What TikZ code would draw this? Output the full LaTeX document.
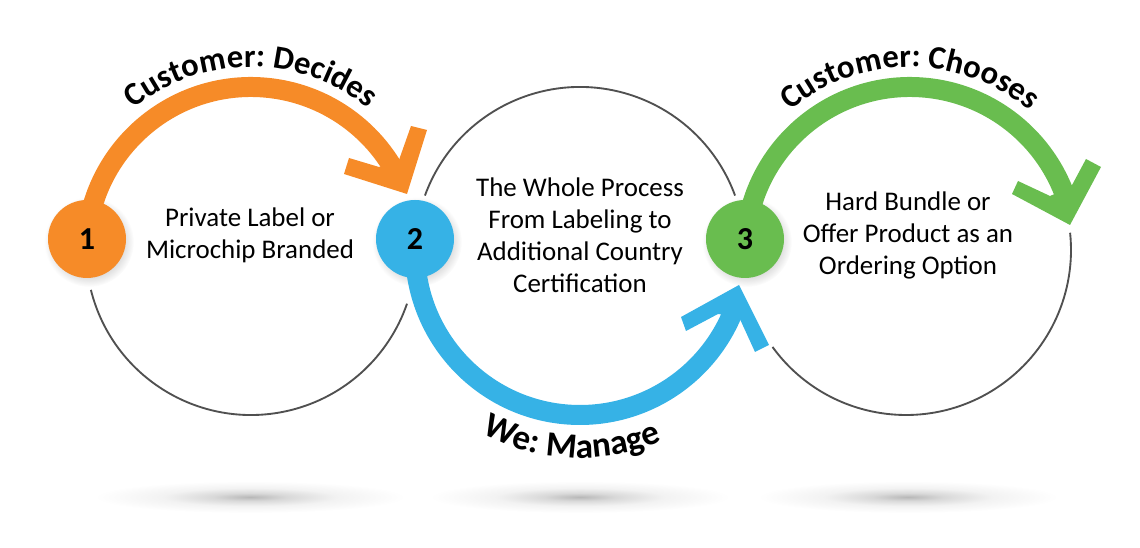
\documentclass[tikz,border=0pt]{standalone}
\usepackage{fontspec}
\setmainfont{Carlito}
\usetikzlibrary{decorations.text}
\definecolor{orangeC}{HTML}{F68B28}
\definecolor{blueC}{HTML}{36B2E6}
\definecolor{greenC}{HTML}{69BD4F}
\definecolor{thinC}{HTML}{505050}
\pgfdeclareradialshading{groundglow}{\pgfpoint{0bp}{0bp}}{color(0bp)=(black!28);color(6bp)=(black!15);color(14bp)=(black!5);color(25bp)=(white);color(50bp)=(white)}
\pgfdeclareradialshading{dotglow}{\pgfpoint{0bp}{0bp}}{color(0bp)=(black!14);color(19bp)=(black!14);color(25bp)=(white);color(50bp)=(white)}
\tikzset{
  x=0.75pt,y=0.75pt,
  numdot/.style={circle,inner sep=0pt,minimum size=58.5pt,font=\fontsize{24}{24}\selectfont\bfseries},
  thinarc/.style={draw=thinC,line width=1.4pt},
  bigarc/.style={line width=15pt},
  bodytext/.style={align=center,font=\fontsize{20.2}{24}\selectfont},
  curvetop/.style 2 args={decorate,decoration={text along path,text align=center,text={|\fontsize{#1}{#1}\selectfont\bfseries|#2}}}
}
\begin{document}
\begin{tikzpicture}
\useasboundingbox (0,0) rectangle (1140,548);
\coordinate (cOne) at (251,296);
\coordinate (cTwo) at (580,296);
\coordinate (cThree) at (910,296);
\coordinate (lowOne) at (251,298);
\coordinate (lowTwo) at (580,298);
\coordinate (lowThree) at (906,298);
% ground shadows
\shade[shading=groundglow] (250,51) ellipse [x radius=155,y radius=16];
\shade[shading=groundglow] (580,51) ellipse [x radius=150,y radius=16];
\shade[shading=groundglow] (908,51) ellipse [x radius=150,y radius=16];
% shadows of the dots
\shade[shading=dotglow] (89,306) circle (45);
\shade[shading=dotglow] (417,306) circle (45);
\shade[shading=dotglow] (747,306) circle (45);
% thin circles
\draw[thinarc] ([shift={(lowOne)}]194:165) arc [start angle=194,end angle=341,radius=165];
\draw[thinarc] ([shift={(cTwo)}]160:165) arc [start angle=160,end angle=20,radius=165];
\draw[thinarc] ([shift={(lowThree)}]216:165) arc [start angle=216,end angle=366,radius=165];
% big arrows
\draw[orangeC,bigarc] ([shift={(cOne)}]175:165) arc [start angle=175,end angle=24,radius=165];
\fill[orangeC] (407,354) -- (427,418) -- (411,422) -- (399,388) -- (379,381) -- (349,390) -- (344,374) -- cycle;
\draw[blueC,bigarc] ([shift={(lowTwo)}]180:165) arc [start angle=180,end angle=340,radius=165];
\fill[blueC] (739,263) -- (769,203) -- (755,196) -- (739,231) -- (718,234) -- (686,217) -- (681,231) -- cycle;
\draw[greenC,bigarc] ([shift={(cThree)}]175:165) arc [start angle=175,end angle=15,radius=165];
\fill[greenC] (1070,323) -- (1101,381) -- (1086,389) -- (1071,361) -- (1050,352) -- (1018,367) -- (1012,354) -- cycle;
% number dots
\node (numOne) at (87,309) [numdot,fill=orangeC] {1};
\node (numTwo) at (415,309) [numdot,fill=blueC] {2};
\node (numThree) at (745,309) [numdot,fill=greenC] {3};
% texts in the circles
\node (textOne) at (250,313) [bodytext] {Private Label or\\Microchip Branded};
\node (textTwo) at (580,313) [bodytext] {The Whole Process\\From Labeling to\\Additional Country\\Certification};
\node (textThree) at (908,313) [bodytext] {Hard Bundle or\\Offer Product as an\\Ordering Option};
% curved labels
\path[curvetop={24.5}{Customer: Decides}] ([shift={(cOne)}]150:185) arc [start angle=150,end angle=30,radius=185];
\path[curvetop={24.5}{Customer: Chooses}] ([shift={(cThree)}]150:185) arc [start angle=150,end angle=30,radius=185];
\path[curvetop={26.5}{We: Manage}] ([shift={(lowTwo)}]217.5:208) arc [start angle=217.5,end angle=317.5,radius=208];
\end{tikzpicture}
\end{document}
